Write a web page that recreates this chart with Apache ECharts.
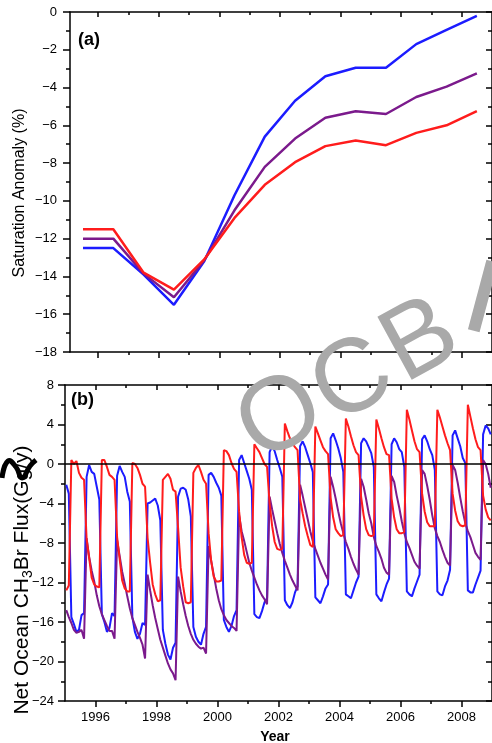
<!DOCTYPE html>
<html>
<head>
<meta charset="utf-8">
<script src="https://cdn.jsdelivr.net/npm/echarts@6/dist/echarts.min.js"></script>
<style>
  html, body { margin: 0; padding: 0; background: #fff; }
  #chart { width: 492px; height: 743px; }
</style>
</head>
<body>
<div id="chart"></div>
<script>
// panel (a): annual saturation anomaly (%), plotted at mid-year
const satYears = [1995.5, 1996.5, 1997.5, 1998.5, 1999.5, 2000.5, 2001.5, 2002.5, 2003.5, 2004.5, 2005.5, 2006.5, 2007.5, 2008.5];
const satBlue = [-12.5, -12.5, -13.9, -15.5, -13.2, -9.7, -6.6, -4.7, -3.4, -2.95, -2.95, -1.7, -0.95, -0.2];
const satPurple = [-12.0, -12.0, -13.85, -15.1, -13.15, -10.5, -8.2, -6.7, -5.6, -5.25, -5.4, -4.5, -3.95, -3.25];
const satRed = [-11.5, -11.5, -13.8, -14.7, -13.1, -10.9, -9.15, -7.95, -7.1, -6.8, -7.05, -6.4, -6.0, -5.25];

// panel (b): monthly net ocean CH3Br flux (Gg/y), one row per year, Jan..Dec
const fluxYears = [1995, 1996, 1997, 1998, 1999, 2000, 2001, 2002, 2003, 2004, 2005, 2006, 2007, 2008];
const fluxBlue = [
  [-2.1, -3.0, -15.5, -16.2, -17.0, -16.8, -15.3, -15.1, -1.3, -0.1, -0.8, -1.0],
  [-2.3, -3.6, -15.2, -16.0, -17.0, -16.6, -15.1, -15.4, -1.2, -0.2, -0.8, -1.3],
  [-2.8, -3.8, -15.5, -17.0, -17.7, -17.2, -16.1, -16.3, -4.0, -3.9, -3.7, -3.5],
  [-4.2, -5.7, -16.8, -18.2, -19.3, -19.8, -18.6, -18.1, -3.3, -2.5, -2.4, -2.6],
  [-3.6, -5.3, -16.5, -17.5, -18.0, -18.3, -17.2, -16.5, -1.1, -0.9, -1.3, -1.9],
  [-2.4, -3.2, -15.8, -16.5, -17.0, -16.4, -15.4, -14.8, 0.4, 0.9, 0.1, -0.7],
  [-1.5, -2.6, -15.2, -15.5, -15.6, -14.9, -14.0, -13.6, 1.2, 1.8, 1.3, 0.4],
  [-0.4, -1.3, -13.8, -14.3, -14.6, -14.0, -13.0, -12.4, 1.8, 2.3, 1.7, 0.9],
  [0.1, -0.8, -13.5, -13.8, -14.1, -13.4, -12.6, -12.2, 2.6, 3.1, 2.4, 1.6],
  [0.6, -0.8, -13.2, -13.4, -13.6, -12.8, -12.0, -11.4, 2.1, 2.6, 2.3, 1.7],
  [1.1, -0.3, -13.2, -13.6, -13.9, -13.0, -12.2, -11.6, 2.0, 2.6, 2.2, 1.5],
  [1.2, -0.3, -12.9, -13.2, -13.4, -12.6, -11.9, -11.2, 2.5, 2.9, 2.3, 1.5],
  [0.9, -0.6, -12.9, -13.2, -13.3, -12.4, -11.8, -10.7, 2.9, 3.4, 2.6, 1.8],
  [0.6, 0.1, -12.8, -13.0, -13.0, -12.2, -11.5, -10.8, 3.0, 3.9, 3.6, 3.0]
];
const fluxPurple = [
  [-14.8, -15.5, -16.1, -16.8, -17.1, -17.0, -16.8, -17.7, -7.5, -9.4, -10.8, -11.9],
  [-13.3, -14.4, -15.2, -15.8, -16.4, -16.9, -16.9, -17.7, -7.7, -9.3, -10.9, -12.1],
  [-13.4, -14.6, -15.6, -16.3, -17.0, -17.6, -18.3, -19.7, -11.2, -12.8, -14.3, -15.6],
  [-16.7, -17.8, -18.6, -19.4, -20.2, -20.8, -21.2, -21.9, -11.4, -12.9, -14.2, -15.4],
  [-16.4, -17.2, -17.8, -18.2, -18.5, -18.7, -18.6, -19.2, -8.3, -9.8, -11.2, -12.6],
  [-13.8, -14.7, -15.3, -15.8, -16.1, -16.4, -16.6, -16.9, -5.2, -6.8, -7.8, -8.9],
  [-10.0, -10.8, -11.5, -12.2, -12.8, -13.3, -13.7, -14.2, -3.3, -4.6, -5.8, -7.0],
  [-8.1, -9.0, -9.8, -10.5, -11.2, -11.8, -12.3, -12.8, -2.1, -3.2, -4.4, -5.6],
  [-6.8, -7.8, -8.6, -9.3, -10.0, -10.6, -11.2, -11.7, -1.3, -2.3, -3.5, -4.8],
  [-6.0, -7.0, -7.9, -8.6, -9.4, -10.1, -10.7, -11.2, -1.5, -2.3, -3.6, -5.0],
  [-6.0, -7.4, -8.3, -8.9, -9.6, -10.5, -11.0, -11.2, -1.2, -1.8, -3.2, -4.4],
  [-5.8, -7.0, -7.9, -8.5, -9.2, -9.9, -10.3, -10.6, -0.6, -1.0, -2.2, -3.6],
  [-5.2, -6.5, -7.3, -7.9, -8.7, -9.4, -10.0, -10.3, -0.1, -0.6, -1.9, -3.4],
  [-4.8, -6.0, -6.8, -7.4, -8.2, -9.0, -9.4, -9.7, 0.4, 0.0, -1.0, -2.4]
];
const fluxRed = [
  [-12.8, -12.3, 0.4, 0.0, 0.3, -0.9, -1.4, -1.6, -7.6, -9.5, -11.5, -12.2],
  [-12.4, -12.5, 0.4, 0.4, -0.3, -1.1, -1.3, -1.6, -7.4, -9.6, -11.8, -12.6],
  [-12.9, -12.9, 0.1, 0.0, -0.4, -1.1, -2.0, -2.3, -7.5, -10.0, -12.2, -13.2],
  [-13.9, -13.8, -1.6, -1.3, -1.0, -1.5, -2.6, -2.8, -6.5, -10.5, -12.4, -14.0],
  [-14.1, -14.0, -0.9, -0.4, -0.1, -0.8, -1.6, -2.0, -7.0, -9.8, -11.4, -11.9],
  [-11.9, -11.8, 1.4, 1.3, 0.9, 0.1, -0.5, -0.8, -4.8, -7.4, -9.2, -10.0],
  [-10.1, -10.0, 2.0, 1.6, 1.2, 0.6, 0.0, -0.3, -4.0, -6.3, -7.9, -8.6],
  [-8.7, -8.6, 4.1, 3.3, 2.6, 2.1, 1.7, 1.4, -3.6, -5.0, -6.3, -7.3],
  [-8.2, -8.4, 3.8, 3.1, 2.4, 1.7, 1.3, 1.0, -3.4, -5.4, -6.6, -7.0],
  [-7.3, -7.2, 4.6, 3.8, 2.8, 1.9, 1.2, 0.9, -3.3, -5.2, -6.6, -7.2],
  [-7.3, -7.2, 4.5, 3.6, 2.6, 1.7, 1.0, 0.9, -3.5, -5.4, -6.6, -7.0],
  [-7.0, -6.9, 5.5, 4.5, 3.4, 2.3, 1.5, 1.2, -3.0, -4.8, -5.9, -6.3],
  [-6.3, -6.3, 5.5, 4.7, 3.8, 2.9, 2.1, 1.4, -3.0, -4.7, -5.8, -6.2],
  [-6.3, -6.2, 6.0, 4.8, 3.6, 2.5, 1.7, 1.4, -3.2, -4.6, -5.4, -5.7]
];

// x tick positions
const majorYears = [1996, 1998, 2000, 2002, 2004, 2006, 2008];
const minorYears = [1997, 1999, 2001, 2003, 2005, 2007];

// grey watermark letters over the plot
const markLetters = ['O', 'C', 'B'];

const FONT = "'Liberation Sans', Arial, sans-serif";
const BLUE = '#1c1cff';
const PURPLE = '#7b1a8c';
const RED = '#ff1c1c';
const GREY = '#a9a9a9';

function annual(vals) {
    return satYears.map((y, i) => [y, vals[i]]);
}
function monthly(rows) {
    const out = [];
    fluxYears.forEach((y, i) => {
        rows[i].forEach((v, m) => out.push([y + (m + 0.5) / 12, v]));
    });
    return out;
}
function minus(v) {
    return v < 0 ? '\u2212' + Math.abs(v) : String(v);
}

function xAx(grid, min, pos, ticks, len, inside, line, labels) {
    return {
        type: 'value', gridIndex: grid, min: min, max: 2009, position: pos,
        splitLine: { show: false },
        axisLine: { show: line, onZero: false, lineStyle: { color: '#000', width: 1.5 } },
        axisTick: { show: true, customValues: ticks, length: len, inside: inside, lineStyle: { color: '#000', width: 1.5 } },
        axisLabel: labels ? {
            show: true, customValues: labels, color: '#000', fontSize: 13,
            fontFamily: FONT, margin: 10, formatter: v => String(v)
        } : { show: false }
    };
}
function yAx(grid, min, max, interval, pos, inside, labels, margin) {
    return {
        type: 'value', gridIndex: grid, min: min, max: max, interval: interval, position: pos,
        splitLine: { show: false },
        axisLine: { show: true, onZero: false, lineStyle: { color: '#000', width: 1.5 } },
        axisTick: { show: true, inside: inside, length: inside ? 6 : 7, lineStyle: { color: '#000', width: 1.5 } },
        minorTick: { show: true, splitNumber: 2, length: 4, lineStyle: { color: '#000', width: 1.5 } },
        axisLabel: labels ? {
            show: true, color: '#000', fontSize: 13, fontFamily: FONT,
            margin: margin, formatter: minus
        } : { show: false }
    };
}

// watermark letter placement (centre of each glyph)
const markPos = [[281, 419], [353, 382], [421, 342]];
const watermark = markLetters.map((ch, i) => ({
    type: 'text', x: markPos[i][0], y: markPos[i][1], rotation: 0.5, z: 100,
    style: { text: ch, font: '104px ' + FONT, fill: GREY, align: 'center', verticalAlign: 'middle' }
}));

const chart = echarts.init(document.getElementById('chart'));

const option = {
    backgroundColor: '#fff',
    animation: false,
    grid: [
        { left: 70, top: 12, width: 424, height: 340 },
        { left: 65, top: 385, width: 429, height: 316 }
    ],
    xAxis: [
        xAx(0, 1995.07, 'bottom', majorYears, 6, false, true, null),
        xAx(0, 1995.07, 'bottom', minorYears, 3, false, false, null),
        xAx(0, 1995.07, 'top', majorYears, 5, true, true, null),
        xAx(0, 1995.07, 'top', minorYears, 3, true, false, null),
        xAx(1, 1995, 'bottom', majorYears, 6, false, true, majorYears),
        xAx(1, 1995, 'bottom', minorYears, 3, false, false, null),
        xAx(1, 1995, 'top', majorYears, 5, true, true, null),
        xAx(1, 1995, 'top', minorYears, 3, true, false, null)
    ],
    yAxis: [
        yAx(0, -18, 0, 2, 'left', false, true, 13),
        yAx(0, -18, 0, 2, 'right', true, false, 0),
        yAx(1, -24, 8, 4, 'left', false, true, 11),
        yAx(1, -24, 8, 4, 'right', true, false, 0)
    ],
    series: [
        { name: 'blue a', type: 'line', xAxisIndex: 0, yAxisIndex: 0, data: annual(satBlue),
          showSymbol: false, lineStyle: { color: BLUE, width: 2.5 }, itemStyle: { color: BLUE } },
        { name: 'purple a', type: 'line', xAxisIndex: 0, yAxisIndex: 0, data: annual(satPurple),
          showSymbol: false, lineStyle: { color: PURPLE, width: 2.5 }, itemStyle: { color: PURPLE } },
        { name: 'red a', type: 'line', xAxisIndex: 0, yAxisIndex: 0, data: annual(satRed),
          showSymbol: false, lineStyle: { color: RED, width: 2.5 }, itemStyle: { color: RED } },
        { name: 'blue b', type: 'line', xAxisIndex: 4, yAxisIndex: 2, data: monthly(fluxBlue),
          showSymbol: false, lineStyle: { color: BLUE, width: 2 }, itemStyle: { color: BLUE } },
        { name: 'purple b', type: 'line', xAxisIndex: 4, yAxisIndex: 2, data: monthly(fluxPurple),
          showSymbol: false, lineStyle: { color: PURPLE, width: 2 }, itemStyle: { color: PURPLE } },
        { name: 'red b', type: 'line', xAxisIndex: 4, yAxisIndex: 2, data: monthly(fluxRed),
          showSymbol: false, lineStyle: { color: RED, width: 2 }, itemStyle: { color: RED },
          markLine: {
              silent: true, symbol: 'none', label: { show: false },
              lineStyle: { color: '#000', width: 1.5, type: 'solid' },
              data: [{ yAxis: 0 }]
          } }
    ],
    graphic: [
        { type: 'text', x: 78, y: 40, z: 50,
          style: { text: '(a)', font: 'bold 18px ' + FONT, fill: '#000', align: 'left', verticalAlign: 'middle' } },
        { type: 'text', x: 71, y: 400, z: 50,
          style: { text: '(b)', font: 'bold 18px ' + FONT, fill: '#000', align: 'left', verticalAlign: 'middle' } },
        { type: 'text', x: 20, y: 193, rotation: Math.PI / 2, z: 50,
          style: { text: 'Saturation Anomaly (%)', font: '16px ' + FONT, fill: '#000', align: 'center', verticalAlign: 'middle' } },
        { type: 'text', x: 22, y: 580, rotation: Math.PI / 2, z: 50,
          style: {
              text: '{a|Net Ocean CH}{s|3}{a|Br Flux(Gg/y)}',
              align: 'center', verticalAlign: 'middle',
              rich: {
                  a: { fontSize: 21, fontFamily: FONT, fill: '#000', lineHeight: 26 },
                  s: { fontSize: 14, fontFamily: FONT, fill: '#000', verticalAlign: 'bottom', lineHeight: 16 }
              }
          } },
        { type: 'text', x: 275, y: 737, z: 50,
          style: { text: 'Year', font: 'bold 14px ' + FONT, fill: '#000', align: 'center', verticalAlign: 'middle' } },
        { type: 'polyline', z: 60,
          shape: { points: [[2, 478], [8, 461], [16, 467], [22, 478], [30, 466], [36, 460]], smooth: 0.5 },
          style: { stroke: '#000', lineWidth: 5, fill: null } },
        // stroke of a further, cut-off watermark letter at the right edge
        { type: 'rect', x: 483, y: 296, rotation: -0.26, z: 100,
          shape: { x: -6, y: -36, width: 12, height: 72 },
          style: { fill: GREY } }
    ].concat(watermark)
};

chart.setOption(option);
</script>
</body>
</html>
